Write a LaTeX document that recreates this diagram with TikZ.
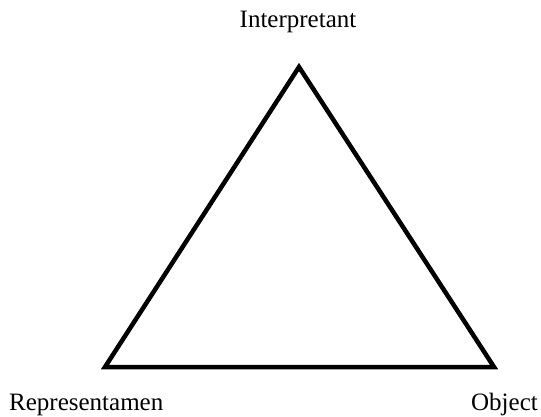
\documentclass[tikz,border=0pt]{standalone}
\usepackage{fontspec}
\setmainfont{Liberation Serif}
\begin{document}
\begin{tikzpicture}[x=1pt,y=-1pt,
  lbl/.style={inner sep=0pt,font=\fontsize{25}{30}\selectfont},
  edge/.style={line width=4.5pt,line join=miter}]
\useasboundingbox[fill=white] (0,0) rectangle (541,417);
\coordinate (I) at (299,67);
\coordinate (R) at (105,367);
\coordinate (O) at (494,367);
\draw[edge] (I) -- (R) -- (O) -- cycle;
\node[lbl,anchor=base] (tI) at (298,28) {Interpretant};
\node[lbl,anchor=base west] (tR) at (9,410) {Representamen};
\node[lbl,anchor=base east] (tO) at (538,410) {Object};
\end{tikzpicture}
\end{document}
